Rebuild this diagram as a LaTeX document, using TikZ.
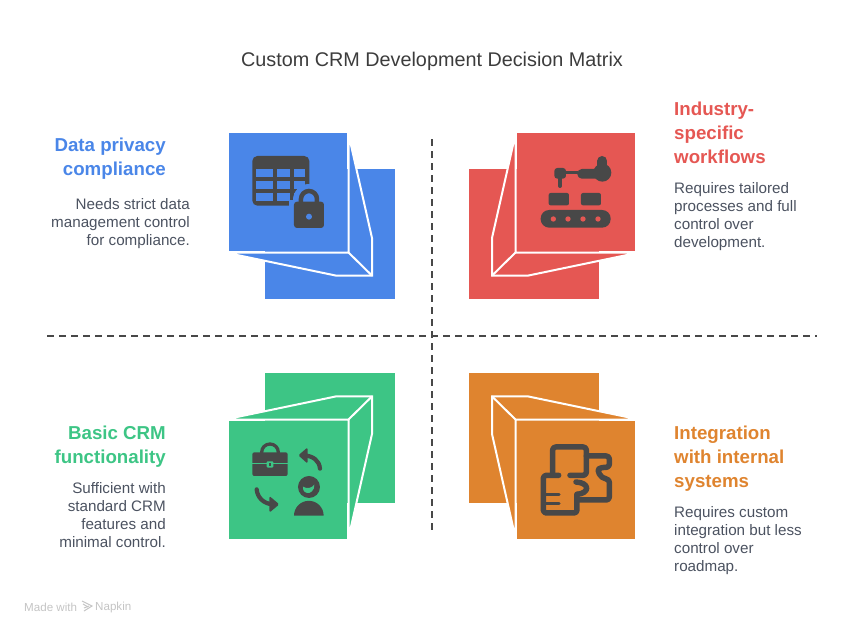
\documentclass[tikz,border=0pt]{standalone}
\usepackage{fontspec}
\setmainfont{Liberation Sans}
\definecolor{privacyblue}{HTML}{4A86E8}
\definecolor{workflowred}{HTML}{E55753}
\definecolor{basicgreen}{HTML}{3DC585}
\definecolor{integorange}{HTML}{DF842F}
\definecolor{icondark}{HTML}{484848}
\definecolor{titledark}{HTML}{3C3C3C}
\definecolor{bodydark}{HTML}{4B5260}
\definecolor{markgrey}{HTML}{C4C4C4}

% one crate, drawn in the top left quadrant and mirrored into the others
\newcommand{\crate}[1]{
  \fill[#1] (265,169) rectangle (395,299);
  \draw[#1, fill=#1, draw=white, line width=2pt, line join=miter]
    (348.5,134) -- (372,238) -- (372,275.6) -- (336,275.6) -- (225,252.5) -- (348.5,252.5) -- cycle;
  \draw[white, line width=2pt] (348.5,252.5) -- (372,275.6);
  \fill[#1] (229,133) rectangle (347,251);
}

\begin{document}
\begin{tikzpicture}[x=1pt, y=-1pt,
  titletext/.style = {inner sep=0, text=titledark, font=\fontsize{19.8}{24}\selectfont},
  headleft/.style = {inner sep=0, anchor=north east, align=right, font=\bfseries\fontsize{18.7}{24}\selectfont},
  headright/.style = {inner sep=0, anchor=north west, align=left, font=\bfseries\fontsize{18.7}{24}\selectfont},
  bodyleft/.style = {inner sep=0, anchor=north east, align=right, text=bodydark, font=\fontsize{15.2}{18}\selectfont},
  bodyright/.style = {inner sep=0, anchor=north west, align=left, text=bodydark, font=\fontsize{15.2}{18}\selectfont},
  footmark/.style = {inner sep=0, anchor=west, text=markgrey, font=\fontsize{11.6}{13}\selectfont},
  axisline/.style = {icondark, line width=2pt, dash pattern=on 7pt off 5pt},
  iconline/.style = {icondark, line cap=round, line join=round, line width=5.5pt}]
\useasboundingbox (0,0) rectangle (864,634);

\node[titletext] (heading) at (432,61) {Custom CRM Development Decision Matrix};

\crate{privacyblue}
\begin{scope}[shift={(864pt,0pt)}, xscale=-1]
\crate{workflowred}
\end{scope}
\begin{scope}[shift={(0pt,-672pt)}, yscale=-1]
\crate{basicgreen}
\end{scope}
\begin{scope}[shift={(864pt,-672pt)}, xscale=-1, yscale=-1]
\crate{integorange}
\end{scope}

% axes
\coordinate (axisn) at (432,139);
\coordinate (axiss) at (432,533);
\coordinate (axisw) at (47,336);
\coordinate (axise) at (817,336);
\draw[axisline] (axisn) -- (axiss);
\draw[axisline] (axisw) -- (axise);

% table and lock
\begin{scope}[shift={(220pt,-120pt)}, x=0.3333pt, y=-0.3333pt]
\fill[icondark, rounded corners=5pt] (97,108) rectangle (268,257);
\foreach \rowy in {148,184,220} {
  \fill[privacyblue] (108,\rowy) rectangle (160,\rowy+24);
  \fill[privacyblue] (172,\rowy) rectangle (210,\rowy+24);
  \fill[privacyblue] (223,\rowy) rectangle (256,\rowy+24);
}
\fill[privacyblue] (267,240) circle[radius=48];
\fill[privacyblue] (208,240) rectangle (320,262);
\draw[icondark, line width=4.5pt] (243,250) -- (243,237) arc[start angle=180, end angle=360, radius=24] -- (291,250);
\fill[icondark, rounded corners=3pt] (222,245) rectangle (312,324);
\fill[privacyblue] (267,290) circle[radius=9];
\end{scope}

% robot arm over conveyor
\begin{scope}[shift={(460pt,-120pt)}, x=0.3333pt, y=-0.3333pt]
\fill[icondark, rounded corners=8.5pt] (242,270) rectangle (452,323);
\foreach \holex in {280,324,369,414}
  \fill[workflowred] (\holex,297) circle[radius=8];
\fill[icondark, rounded corners=2pt] (266,256) -- (266,219) -- (327,219) -- (327,256) -- cycle;
\fill[icondark, rounded corners=2pt] (363,256) -- (363,219) -- (423,219) -- (423,256) -- cycle;
\fill[icondark, rounded corners=3pt] (283,144) rectangle (318,176);
\draw[iconline, line width=4pt] (300,176) -- (300,198);
\draw[icondark, line width=2.6pt] (318,158) -- (355,158);
\fill[icondark, rounded corners=4.5pt] (352,147) rectangle (420,176);
\fill[icondark] (427,158) circle[radius=27];
\draw[iconline, line width=10pt] (427,123) -- (427,150);
\end{scope}

% briefcase, person and turn arrows
\begin{scope}[shift={(220pt,-360pt)}, x=0.3333pt, y=-0.3333pt]
\fill[icondark, rounded corners=2pt] (97,277) rectangle (203,348);
\draw[icondark, line width=3.3pt] (125,279) -- (125,277) arc[start angle=180, end angle=360, radius=25] -- (175,279);
\fill[basicgreen] (97,309) rectangle (203,313);
\fill[basicgreen, rounded corners=1pt] (140,304) rectangle (160,323);
\fill[icondark] (146,309) rectangle (154,318);
\draw[iconline, line width=4.2pt] (300,326) .. controls (298,302) and (280,288) .. (252,286);
\fill[icondark, rounded corners=1.5pt] (263,262) -- (235,286) -- (263,311) -- cycle;
\draw[iconline, line width=4.2pt] (110,388) .. controls (112,412) and (130,431) .. (158,433);
\fill[icondark, rounded corners=1.5pt] (148,408) -- (178,433) -- (148,458) -- cycle;
\fill[icondark] (267,381) circle[radius=33];
\fill[basicgreen] (249,380) .. controls (262,388) and (275,384) .. (283,374) .. controls (284,392) and (270,401) .. (262,399) .. controls (252,397) and (248,390) .. (249,380) -- cycle;
\fill[icondark] (222,467) arc[start angle=180, end angle=360, radius=44.5] -- cycle;
\end{scope}

% puzzle pieces
\begin{scope}[shift={(460pt,-360pt)}, x=0.3333pt, y=-0.3333pt]
\draw[iconline, rounded corners=3pt] (296,346) -- (250,346) -- (250,459) -- (351,459) -- (351,403);
\draw[iconline, rounded corners=3pt] (278,338) -- (278,261) -- (379,261) -- (379,346) -- (330,346);
\draw[iconline] (351,403) .. controls (390,400) and (390,368) .. (348,366);
\draw[iconline, rounded corners=3pt] (379,288) -- (448,288) -- (448,322) -- (425,322)
  .. controls (410,330) and (420,355) .. (448,358) -- (448,420) -- (358,420);
\draw[iconline, line width=3.3pt] (258,404) -- (297,404);
\draw[iconline, line width=3.3pt] (258,431) -- (297,431);
\end{scope}

% texts
\node[headleft, text=privacyblue] (privacyhead) at (166,138) {Data privacy\\compliance};
\node[bodyleft] (privacybody) at (190,198) {Needs strict data\\management control\\for compliance.};
\node[headright, text=workflowred] (workflowhead) at (674,102) {Industry-\\specific\\workflows};
\node[bodyright] (workflowbody) at (674,182) {Requires tailored\\processes and full\\control over\\development.};
\node[headleft, text=basicgreen] (basichead) at (166,426) {Basic CRM\\functionality};
\node[bodyleft] (basicbody) at (166,482) {Sufficient with\\standard CRM\\features and\\minimal control.};
\node[headright, text=integorange] (integhead) at (674,426) {Integration\\with internal\\systems};
\node[bodyright] (integbody) at (674,506) {Requires custom\\integration but less\\control over\\roadmap.};

% footer
\node[footmark] (madewith) at (24,607) {Made with};
\node[footmark] (napkin) at (95,607) {Napkin};
\coordinate (logonw) at (82,601);
\coordinate (logoe) at (92,606);
\coordinate (logosw) at (84,611);
\draw[markgrey, line width=1pt] (logonw) -- (logoe) -- (logosw);
\draw[markgrey, line width=1pt] (logonw) ++(1,3) -- ++(5,3);
\draw[markgrey, line width=1pt] (logosw) ++(0,-3) -- ++(5,-2);
\end{tikzpicture}
\end{document}
